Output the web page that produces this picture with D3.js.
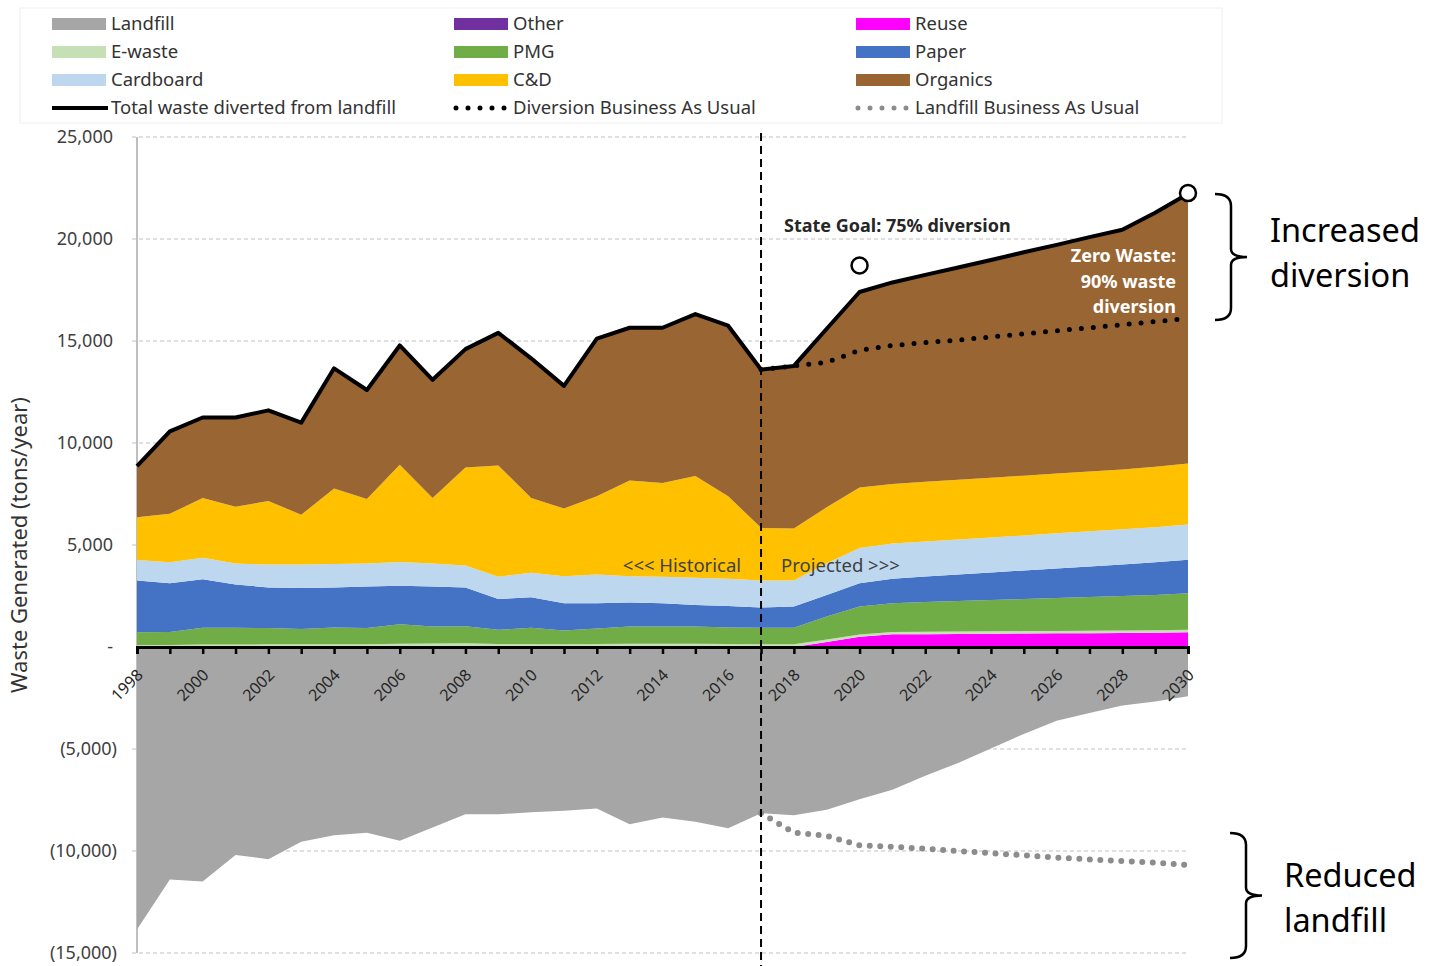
<!DOCTYPE html>
<html>
<head>
<meta charset="utf-8">
<script src="https://cdn.jsdelivr.net/npm/d3@7"></script>
<style>
  body { margin: 0; background: #fff; }
  text { font-family: "Noto Sans", sans-serif; }
</style>
</head>
<body>
<script>
//Chart data (tons/year), one value per year 1998..2030
const years = d3.range(1998, 2031);

const reuse     = [0,0,0,0,0,0,0,0,0,0,0,0,0,0,0,0,0,0,0,0,0,250,500,620,630,640,650,660,670,680,690,700,720];
const eWaste    = [100,100,120,120,130,130,140,140,160,170,180,150,150,140,150,160,160,160,150,140,130,120,110,120,120,120,120,120,120,120,120,120,120];
const other     = [0,0,0,0,0,0,0,0,0,0,0,0,0,0,0,0,0,0,0,0,0,0,0,0,0,0,0,0,0,0,0,0,0];
const pmg       = [620,640,820,820,800,750,820,790,960,840,840,690,790,670,760,840,840,840,810,800,810,1130,1370,1410,1450,1490,1530,1570,1610,1650,1690,1730,1790];
const paper     = [2540,2390,2380,2120,1990,2010,1960,2030,1880,1950,1900,1510,1500,1340,1240,1180,1150,1060,1050,1000,1040,1050,1150,1200,1250,1300,1350,1400,1450,1500,1550,1600,1650];
const cardboard = [1000,1030,1060,1030,1120,1150,1150,1130,1170,1130,1080,1090,1200,1320,1410,1290,1290,1340,1340,1320,1280,1550,1720,1720,1720,1720,1720,1720,1720,1720,1720,1720,1720];
const cAndD     = [2100,2370,2920,2780,3120,2440,3700,3160,4760,3210,4800,5460,3660,3320,3830,4690,4600,4980,4040,2580,2550,2750,2970,2920,2930,2930,2930,2930,2930,2930,2930,2970,2990];
const organics  = [2510,4040,3950,4380,4440,4520,5890,5350,5850,5800,5800,6500,6850,6010,7730,7490,7610,7940,8360,7760,7970,8750,9580,9880,10140,10400,10670,10950,11210,11490,11750,12450,13230];
const landfill  = [-13850,-11400,-11500,-10200,-10400,-9550,-9230,-9100,-9500,-8850,-8200,-8200,-8100,-8030,-7920,-8690,-8360,-8570,-8890,-8150,-8250,-7980,-7460,-7000,-6310,-5690,-4970,-4260,-3610,-3230,-2870,-2670,-2410];

//Business as usual projections 2017..2030
const bauYears        = d3.range(2017, 2031);
const diversionBau    = [13600,13780,13950,14550,14780,14920,15050,15200,15350,15500,15650,15800,15950,16100];
const landfillBau     = [-8150,-9100,-9260,-9720,-9790,-9890,-10000,-10110,-10210,-10330,-10410,-10490,-10570,-10690];

//Goal markers
const goalYears  = [2020, 2030];
const goalValues = [18700, 22250];

const yTicks = [25000, 20000, 15000, 10000, 5000, 0, -5000, -10000, -15000];
const splitYear = 2017;

const keys   = ["reuse", "eWaste", "other", "pmg", "paper", "cardboard", "cAndD", "organics"];
const series = {reuse, eWaste, other, pmg, paper, cardboard, cAndD, organics};
const colors = {
  landfill: "#a6a6a6", eWaste: "#c5e0b4", cardboard: "#bdd7ee",
  other: "#7030a0", pmg: "#70ad47", cAndD: "#ffc000",
  reuse: "#ff00ff", paper: "#4472c4", organics: "#996633"
};

const width = 1439, height = 966;

const svg = d3.select("body").append("svg")
  .attr("width", width)
  .attr("height", height);

const x = d3.scaleLinear().domain([1998, 2030]).range([137, 1188]);
const y = d3.scaleLinear().domain([-15000, 25000]).range([953, 137]);

//Gridlines
svg.append("g")
  .selectAll("line")
  .data(yTicks.filter(d => d !== 0))
  .enter()
  .append("line")
    .attr("x1", x(1998) - 5).attr("x2", x(2030))
    .attr("y1", d => y(d)).attr("y2", d => y(d))
    .attr("stroke", "#bfbfbf")
    .attr("stroke-width", 1.2)
    .attr("stroke-dasharray", "4,3");

//Left axis line
svg.append("line")
  .attr("x1", x(1998)).attr("x2", x(1998))
  .attr("y1", y(25000)).attr("y2", y(-15000))
  .attr("stroke", "#bfbfbf")
  .attr("stroke-width", 2);

//Stacked diversion areas
const table = years.map((yr, i) => {
  const row = {year: yr};
  keys.forEach(k => { row[k] = series[k][i]; });
  return row;
});
const stacked = d3.stack().keys(keys)(table);

const area = d3.area()
  .x(d => x(d.data.year))
  .y0(d => y(d[0]))
  .y1(d => y(d[1]));

svg.append("g")
  .selectAll("path")
  .data(stacked)
  .enter()
  .append("path")
    .attr("d", area)
    .attr("fill", d => colors[d.key]);

//Landfill area below zero
const landArea = d3.area()
  .x((d, i) => x(years[i]))
  .y0(y(0))
  .y1(d => y(d));
svg.append("path")
  .datum(landfill)
  .attr("d", landArea)
  .attr("fill", colors.landfill);

//X axis
const xAxis = svg.append("g")
  .attr("transform", "translate(0," + y(0) + ")")
  .call(d3.axisBottom(x).tickValues(years).tickSize(7).tickFormat(""));
xAxis.select(".domain").attr("stroke", "#000").attr("stroke-width", 3);
xAxis.selectAll(".tick line").attr("stroke", "#000").attr("stroke-width", 2.5);

svg.append("g")
  .selectAll("text")
  .data(years.filter(d => d % 2 === 0))
  .enter()
  .append("text")
    .attr("transform", d => "translate(" + (x(d) + 7) + "," + (y(0) + 29) + ") rotate(-45)")
    .attr("text-anchor", "end")
    .attr("font-size", "16px")
    .attr("fill", "#262626")
    .text(d => d);

//Y tick labels
const fmt = d3.format(",");
svg.append("g")
  .selectAll("text")
  .data(yTicks)
  .enter()
  .append("text")
    .attr("x", d => d < 0 ? 117 : 113)
    .attr("y", d => y(d))
    .attr("dy", "0.35em")
    .attr("text-anchor", "end")
    .attr("font-size", "18px")
    .attr("fill", "#404040")
    .text(d => d === 0 ? "-" : d < 0 ? "(" + fmt(-d) + ")" : fmt(d));

//Y axis label
svg.append("text")
  .attr("transform", "translate(27," + 545 + ") rotate(-90)")
  .attr("text-anchor", "middle")
  .attr("font-size", "22px")
  .attr("fill", "#333")
  .text("Waste Generated (tons/year)");

//Business as usual dotted lines
const bauLine = d3.line()
  .x((d, i) => x(bauYears[i]))
  .y(d => y(d));
svg.append("path")
  .datum(diversionBau)
  .attr("d", bauLine)
  .attr("fill", "none")
  .attr("stroke", "#000")
  .attr("stroke-width", 5)
  .attr("stroke-linecap", "round")
  .attr("stroke-dasharray", "0,12");
svg.append("path")
  .datum(landfillBau)
  .attr("d", bauLine)
  .attr("fill", "none")
  .attr("stroke", "#8c8c8c")
  .attr("stroke-width", 6)
  .attr("stroke-linecap", "round")
  .attr("stroke-dasharray", "0,10.5");

//Total diverted line
const totals = years.map((yr, i) => d3.sum(keys, k => series[k][i]));
svg.append("path")
  .datum(totals)
  .attr("d", d3.line().x((d, i) => x(years[i])).y(d => y(d)))
  .attr("fill", "none")
  .attr("stroke", "#000")
  .attr("stroke-width", 4)
  .attr("stroke-linejoin", "round");

//Historical / projected divider
svg.append("line")
  .attr("x1", x(splitYear)).attr("x2", x(splitYear))
  .attr("y1", 133).attr("y2", 966)
  .attr("stroke", "#000")
  .attr("stroke-width", 2)
  .attr("stroke-dasharray", "8,5");

svg.append("text")
  .attr("x", x(splitYear) - 20).attr("y", 572)
  .attr("text-anchor", "end")
  .attr("font-size", "18.5px")
  .attr("fill", "#404040")
  .text("<<< Historical");
svg.append("text")
  .attr("x", x(splitYear) + 20).attr("y", 572)
  .attr("font-size", "18.5px")
  .attr("fill", "#404040")
  .text("Projected >>>");

//Goal circles
svg.append("g")
  .selectAll("circle")
  .data(goalYears)
  .enter()
  .append("circle")
    .attr("cx", d => x(d))
    .attr("cy", (d, i) => y(goalValues[i]))
    .attr("r", 8)
    .attr("fill", "#fff")
    .attr("stroke", "#000")
    .attr("stroke-width", 2.5);

//Annotations
svg.append("text")
  .attr("x", 784).attr("y", 232)
  .attr("font-size", "18px")
  .attr("font-weight", "bold")
  .attr("fill", "#262626")
  .text("State Goal: 75% diversion");

svg.append("g")
  .selectAll("text")
  .data(["Zero Waste:", "90% waste", "diversion"])
  .enter()
  .append("text")
    .attr("x", 1176)
    .attr("y", (d, i) => 262 + i * 25.5)
    .attr("text-anchor", "end")
    .attr("font-size", "18px")
    .attr("font-weight", "bold")
    .attr("fill", "#fff")
    .text(d => d);

//Curly braces with side notes
const brace = (x0, y0, y1, w) => {
  const m = (y0 + y1) / 2, xm = x0 + w / 2;
  return "M" + x0 + "," + y0 +
    " Q" + xm + "," + y0 + " " + xm + "," + (y0 + 12) +
    " L" + xm + "," + (m - 8) +
    " Q" + xm + "," + m + " " + (x0 + w) + "," + m +
    " Q" + xm + "," + m + " " + xm + "," + (m + 8) +
    " L" + xm + "," + (y1 - 12) +
    " Q" + xm + "," + y1 + " " + x0 + "," + y1;
};
svg.append("path")
  .attr("d", brace(1215, 194, 320, 32))
  .attr("fill", "none").attr("stroke", "#000").attr("stroke-width", 2.5);
svg.append("path")
  .attr("d", brace(1230, 833, 958, 32))
  .attr("fill", "none").attr("stroke", "#000").attr("stroke-width", 2.5);

const sideNote = (lines, x0, y0) => {
  svg.append("g")
    .selectAll("text")
    .data(lines)
    .enter()
    .append("text")
      .attr("x", x0)
      .attr("y", (d, i) => y0 + i * 45)
      .attr("font-size", "32.5px")
      .attr("fill", "#000")
      .text(d => d);
};
sideNote(["Increased", "diversion"], 1270, 242);
sideNote(["Reduced", "landfill"], 1284, 887);

//Legend
const legendItems = [
  {label: "Landfill", type: "box", color: colors.landfill},
  {label: "Other", type: "box", color: colors.other},
  {label: "Reuse", type: "box", color: colors.reuse},
  {label: "E-waste", type: "box", color: colors.eWaste},
  {label: "PMG", type: "box", color: colors.pmg},
  {label: "Paper", type: "box", color: colors.paper},
  {label: "Cardboard", type: "box", color: colors.cardboard},
  {label: "C&D", type: "box", color: colors.cAndD},
  {label: "Organics", type: "box", color: colors.organics},
  {label: "Total waste diverted from landfill", type: "line", color: "#000"},
  {label: "Diversion Business As Usual", type: "dots", color: "#000"},
  {label: "Landfill Business As Usual", type: "dots", color: "#8c8c8c"}
];

svg.append("rect")
  .attr("x", 20).attr("y", 8)
  .attr("width", 1202).attr("height", 115)
  .attr("fill", "#fff")
  .attr("stroke", "#f0f0f0");

const legend = svg.append("g")
  .selectAll("g")
  .data(legendItems)
  .enter()
  .append("g")
    .attr("transform", (d, i) => "translate(" + (52 + (i % 3) * 402) + "," + (24 + Math.floor(i / 3) * 28) + ")");

legend.filter(d => d.type === "box").append("rect")
  .attr("x", 0).attr("y", -6)
  .attr("width", 54).attr("height", 12)
  .attr("fill", d => d.color);
legend.filter(d => d.type === "line").append("line")
  .attr("x1", 0).attr("x2", 56).attr("y1", 0).attr("y2", 0)
  .attr("stroke", d => d.color)
  .attr("stroke-width", 4);
legend.filter(d => d.type === "dots").append("line")
  .attr("x1", 2).attr("x2", 56).attr("y1", 0).attr("y2", 0)
  .attr("stroke", d => d.color)
  .attr("stroke-width", 5)
  .attr("stroke-linecap", "round")
  .attr("stroke-dasharray", "0,12");

legend.append("text")
  .attr("x", 59)
  .attr("dy", "0.35em")
  .attr("font-size", "18.5px")
  .attr("fill", "#333")
  .text(d => d.label);
</script>
</body>
</html>
